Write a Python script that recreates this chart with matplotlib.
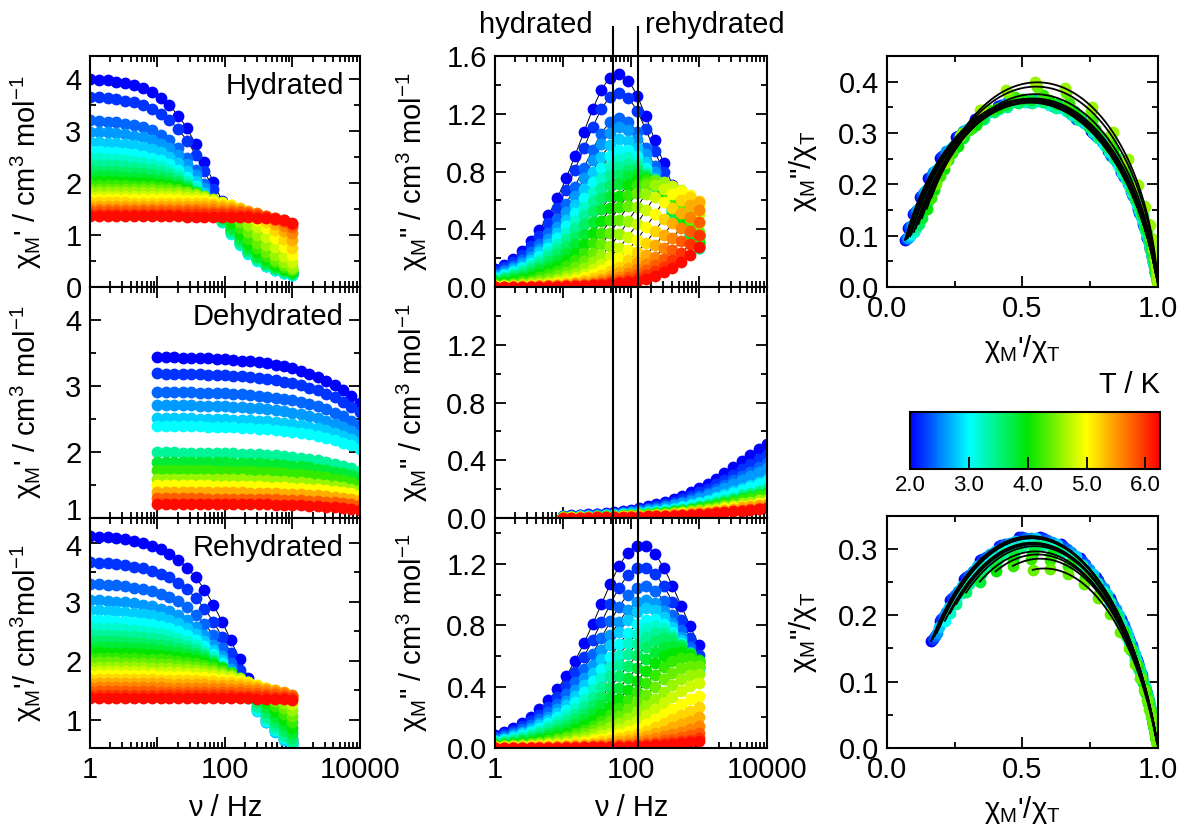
import numpy as np
import matplotlib
matplotlib.use('Agg')
import matplotlib.pyplot as plt
from matplotlib.colors import LinearSegmentedColormap, Normalize
from matplotlib.cm import ScalarMappable
from matplotlib.ticker import MultipleLocator, LogLocator, FuncFormatter, NullFormatter, FixedLocator

plt.rcParams['font.family'] = ['Liberation Sans', 'DejaVu Sans']
plt.rcParams['mathtext.fontset'] = 'custom'
plt.rcParams['mathtext.rm'] = 'Liberation Sans'
plt.rcParams['mathtext.it'] = 'Liberation Sans:italic'
plt.rcParams['mathtext.bf'] = 'Liberation Sans:bold'
plt.rcParams['font.size'] = 21

# measurement frequencies (Hz)
freq_hr = [1, 1.35, 1.82, 2.46, 3.33, 4.50, 6.07, 8.20, 11.1, 14.9, 20.2, 27.3,
           36.8, 49.7, 67.1, 90.6, 122, 165, 223, 301, 407, 549, 741, 1000]
freq_de = [10, 13.3, 17.8, 23.7, 31.6, 42.2, 56.2, 75.0, 100, 133, 178, 237, 316,
           422, 562, 750, 1000, 1334, 1778, 2371, 3162, 4217, 5623, 7499, 10000]

# hydrated: temperature, chi_T, chi_S, peak frequency, alpha
T_hyd = [2.0, 2.2, 2.4, 2.6, 2.8, 3.0, 3.2, 3.4, 3.6, 3.8, 4.0, 4.2, 4.4, 4.6, 4.8,
         5.0, 5.2, 5.4, 5.6, 5.8, 6.0, 6.2]
chiT_hyd = [4.05, 3.70, 3.24, 3.02, 2.82, 2.64, 2.50, 2.38, 2.26, 2.15, 2.05, 1.97,
            1.90, 1.83, 1.76, 1.70, 1.63, 1.57, 1.51, 1.46, 1.41, 1.36]
chiS_hyd = [0.12, 0.12, 0.12, 0.12, 0.13, 0.13, 0.14, 0.14, 0.15, 0.16, 0.17, 0.18,
            0.19, 0.20, 0.22, 0.24, 0.26, 0.28, 0.30, 0.32, 0.34, 0.36]
f0_hyd = [64, 66, 68, 71, 74, 78, 84, 92, 104, 120, 146, 180, 225, 295, 390, 530,
          720, 980, 1330, 1800, 2450, 3300]
a_hyd = [0.18, 0.18, 0.18, 0.17, 0.17, 0.17, 0.17, 0.17, 0.16, 0.15, 0.14, 0.12,
         0.09, 0.07, 0.06, 0.06, 0.06, 0.06, 0.06, 0.06, 0.06, 0.06]

# dehydrated
T_deh = [2.0, 2.2, 2.4, 2.6, 2.8, 3.0, 3.4, 3.8, 4.2, 4.6, 5.0, 5.4, 5.8, 6.2]
chiT_deh = [3.45, 3.20, 2.92, 2.72, 2.52, 2.40, 2.00, 1.86, 1.73, 1.60, 1.50, 1.40,
            1.30, 1.22]
chiS_deh = [1.15, 1.23, 1.22, 1.18, 1.31, 1.25, 1.08, 1.04, 1.01, 1.01, 1.01, 0.97,
            0.97, 0.92]
f0_deh = [30000, 30000, 30000, 30000, 30000, 30000, 30000, 30000, 30000, 30000,
          30000, 30000, 30000, 30000]
a_deh = [0.40, 0.40, 0.40, 0.40, 0.40, 0.40, 0.40, 0.40, 0.40, 0.40, 0.40, 0.40,
         0.40, 0.40]

# rehydrated
T_reh = T_hyd
chiT_reh = [4.15, 3.70, 3.33, 3.05, 2.88, 2.72, 2.58, 2.46, 2.35, 2.25, 2.15, 2.06,
            1.98, 1.90, 1.83, 1.76, 1.69, 1.62, 1.55, 1.48, 1.42, 1.37]
chiS_reh = [0.25, 0.23, 0.22, 0.21, 0.20, 0.20, 0.20, 0.20, 0.21, 0.22, 0.24, 0.27,
            0.32, 0.40, 0.50, 0.62, 0.74, 0.85, 0.95, 1.03, 1.08, 1.12]
f0_reh = [140, 145, 152, 162, 175, 195, 220, 255, 310, 390, 500, 640, 820, 1050,
          1350, 1750, 2250, 2900, 3700, 4700, 6000, 7500]
a_reh = [0.24, 0.24, 0.24, 0.24, 0.24, 0.25, 0.25, 0.25, 0.25, 0.26, 0.26, 0.26,
         0.27, 0.27, 0.27, 0.28, 0.28, 0.28, 0.28, 0.28, 0.28, 0.28]

# temperatures shown in the Cole-Cole plots
n_cc_hyd = 14
n_cc_reh = 13

nu_hyd = 54     # vertical markers (Hz)
nu_reh = 126

cmap = LinearSegmentedColormap.from_list(
    'rainbow_o', [(0.0, '#0000ff'), (1.0 / 4.25, '#00ffff'), (2.0 / 4.25, '#00e600'),
                  (3.0 / 4.25, '#ffff00'), (1.0, '#ff0000')])
norm = Normalize(2.0, 6.25)


def debye(f, chiT, chiS, f0, a):
    # generalised Debye model
    z = (1j * np.asarray(f, dtype=float) / f0) ** (1 - a)
    chi = chiS + (chiT - chiS) / (1 + z)
    return chi.real, -chi.imag


def style(ax):
    ax.tick_params(which='both', direction='in', top=True, right=True, width=1.3)
    ax.tick_params(which='major', length=8, pad=6)
    ax.tick_params(which='minor', length=4)
    for s in ax.spines.values():
        s.set_linewidth(1.5)


def freq_panel(ax, freqs, T, chiT, chiS, f0, a, part, bottom):
    ff = np.geomspace(freqs[0], freqs[-1], 300)
    for i in range(len(T)):
        pts = debye(freqs, chiT[i], chiS[i], f0[i], a[i])[part]
        fit = debye(ff, chiT[i], chiS[i], f0[i], a[i])[part]
        ax.plot(ff, fit, color='k', lw=0.7, zorder=1)
        ax.plot(freqs, pts, 'o', ms=8.5, color=cmap(norm(T[i])), mec='none', zorder=2)
    ax.set_xscale('log')
    ax.set_xlim(1, 1e4)
    ax.xaxis.set_major_locator(LogLocator(base=10, numticks=10))
    ax.xaxis.set_minor_locator(LogLocator(base=10, subs=np.arange(2, 10), numticks=20))
    ax.xaxis.set_minor_formatter(NullFormatter())
    ax.xaxis.set_major_formatter(FuncFormatter(
        lambda v, p: '%d' % v if round(np.log10(v)) % 2 == 0 else ''))
    style(ax)
    if not bottom:
        ax.tick_params(labelbottom=False)


def cole_panel(ax, freqs, T, chiT, chiS, f0, a, n):
    ff = np.geomspace(freqs[0], freqs[-1], 300)
    for i in range(n):
        x, y = debye(freqs, chiT[i], chiS[i], f0[i], a[i])
        ax.plot(x / chiT[i], y / chiT[i], 'o', ms=8.5, color=cmap(norm(T[i])),
                mec='none', zorder=2)
    for i in range(n):
        x, y = debye(ff, chiT[i], chiS[i], f0[i], a[i])
        ax.plot(x / chiT[i], y / chiT[i], color='k', lw=1.3, zorder=3)
    ax.set_xlim(0, 1)
    ax.xaxis.set_major_locator(MultipleLocator(0.5))
    ax.xaxis.set_minor_locator(MultipleLocator(0.25))
    ax.yaxis.set_major_locator(MultipleLocator(0.1))
    ax.yaxis.set_minor_locator(MultipleLocator(0.05))
    ax.xaxis.set_major_formatter(FuncFormatter(lambda v, p: '%.1f' % v))
    ax.yaxis.set_major_formatter(FuncFormatter(lambda v, p: '%.1f' % v))
    style(ax)
    ax.set_xlabel("χ$_\\mathrm{M}$'/χ$_\\mathrm{T}$")
    ax.set_ylabel('χ$_\\mathrm{M}$"/χ$_\\mathrm{T}$')
    ax.xaxis.set_label_coords(0.5, -0.2)
    ax.yaxis.set_label_coords(-0.25, 0.5)


fig = plt.figure(figsize=(11.82, 8.32), dpi=100)

rows = [(0.655, 0.2776), (0.3774, 0.2776), (0.101, 0.2764)]
axL = [fig.add_axes([0.0761, b, 0.2284, h]) for b, h in rows]
axM = [fig.add_axes([0.4188, b, 0.2301, h]) for b, h in rows]
axR1 = fig.add_axes([0.7504, 0.655, 0.2293, 0.2776])
axR2 = fig.add_axes([0.7504, 0.101, 0.2293, 0.279])
cax = fig.add_axes([0.770, 0.4363, 0.2115, 0.0685])

sets = [(freq_hr, T_hyd, chiT_hyd, chiS_hyd, f0_hyd, a_hyd),
        (freq_de, T_deh, chiT_deh, chiS_deh, f0_deh, a_deh),
        (freq_hr, T_reh, chiT_reh, chiS_reh, f0_reh, a_reh)]

for k in range(3):
    freq_panel(axL[k], *sets[k], 0, k == 2)
    freq_panel(axM[k], *sets[k], 1, k == 2)

# chi' column
ylims_L = [(0, 4.45), (1, 4.5), (0.52, 4.42)]
yt_L = [[0, 1, 2, 3, 4], [1, 2, 3, 4], [1, 2, 3, 4]]
names = ['Hydrated', 'Dehydrated', 'Rehydrated']
for k, ax in enumerate(axL):
    ax.set_ylim(*ylims_L[k])
    ax.yaxis.set_major_locator(FixedLocator(yt_L[k]))
    ax.yaxis.set_minor_locator(MultipleLocator(0.5))
    ax.text(0.94, 0.87, names[k], transform=ax.transAxes, ha='right', va='center')
    if k < 2:
        ax.set_ylabel("χ$_\\mathrm{M}$' / cm$^3$ mol$^{-1}$")
    else:
        ax.set_ylabel("χ$_\\mathrm{M}$'/ cm$^3$mol$^{-1}$")
    ax.yaxis.set_label_coords(-0.17, 0.5)

# the "1" of the middle panel and the "4" of the lower panel sit close together:
# draw them nudged slightly apart
axL[1].yaxis.set_major_formatter(FuncFormatter(lambda v, p: '' if v == 1 else '%d' % v))
axL[2].yaxis.set_major_formatter(FuncFormatter(lambda v, p: '' if v == 4 else '%d' % v))
axL[1].annotate('1', xy=(0, 1), xycoords=('axes fraction', 'data'),
                xytext=(-6, 4), textcoords='offset points', ha='right', va='center')
axL[2].annotate('4', xy=(0, 4), xycoords=('axes fraction', 'data'),
                xytext=(-6, -4), textcoords='offset points', ha='right', va='center')

# chi'' column
ylims_M = [(0, 1.6), (0, 1.6), (0, 1.5)]
yt_M = [[0, 0.4, 0.8, 1.2, 1.6], [0, 0.4, 0.8, 1.2], [0, 0.4, 0.8, 1.2]]
for k, ax in enumerate(axM):
    ax.set_ylim(*ylims_M[k])
    ax.yaxis.set_major_locator(FixedLocator(yt_M[k]))
    ax.yaxis.set_minor_locator(MultipleLocator(0.2))
    ax.yaxis.set_major_formatter(FuncFormatter(lambda v, p: '%.1f' % v))
    ax.set_ylabel('χ$_\\mathrm{M}$" / cm$^3$ mol$^{-1}$')
    ax.yaxis.set_label_coords(-0.24, 0.5)
    top = 1.125 if k == 0 else 1.0
    for nu in (nu_hyd, nu_reh):
        ax.axvline(nu, ymin=0, ymax=top, color='k', lw=1.5, clip_on=False, zorder=4)

for ax in (axL[2], axM[2]):
    ax.set_xlabel('ν / Hz')
    ax.xaxis.set_label_coords(0.5, -0.2)

fig.text(0.5017, 0.97, 'hydrated', ha='right', va='center')
fig.text(0.5457, 0.97, 'rehydrated', ha='left', va='center')

# Cole-Cole plots
cole_panel(axR1, freq_hr, T_hyd, chiT_hyd, chiS_hyd, f0_hyd, a_hyd, n_cc_hyd)
axR1.set_ylim(0, 0.45)
cole_panel(axR2, freq_hr, T_reh, chiT_reh, chiS_reh, f0_reh, a_reh, n_cc_reh)
axR2.set_ylim(0, 0.35)

# colour bar
sm = ScalarMappable(norm=norm, cmap=cmap)
cb = fig.colorbar(sm, cax=cax, orientation='horizontal', ticks=[2, 3, 4, 5, 6])
cb.ax.set_xticklabels(['2.0', '3.0', '4.0', '5.0', '6.0'])
cb.ax.tick_params(direction='in', length=9, width=1.3, labelsize=16, pad=4)
cb.outline.set_linewidth(1.5)
fig.text(0.981, 0.537, 'T / K', ha='right', va='center')

fig.savefig('out.png', dpi=100)
